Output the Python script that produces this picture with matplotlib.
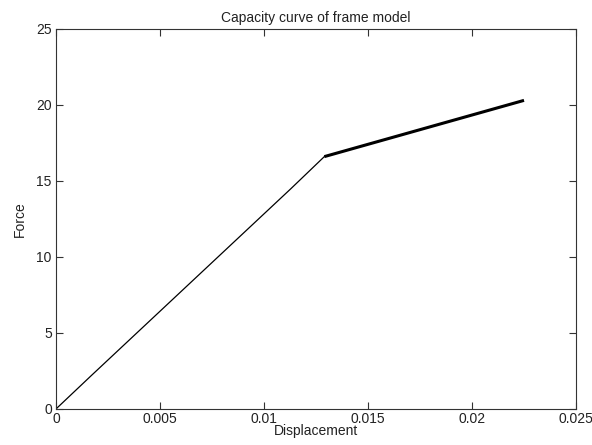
import matplotlib
matplotlib.use("Agg")
import matplotlib.pyplot as plt

# Elastic branch (thin line)
disp_elastic = [0.0, 0.0017, 0.0049, 0.0081, 0.0113, 0.0129]
force_elastic = [0.0, 2.2, 6.3, 10.4, 14.5, 16.6]
# Post-yield branch (thick line)
disp_plastic = [0.0129, 0.0225]
force_plastic = [16.6, 20.3]

xticks = [0, 0.005, 0.01, 0.015, 0.02, 0.025]
xticklabels = ["0", "0.005", "0.01", "0.015", "0.02", "0.025"]
yticks = [0, 5, 10, 15, 20, 25]

plt.rcParams['font.family'] = ['Liberation Sans', 'DejaVu Sans']

fig = plt.figure(figsize=(5.92, 4.45), dpi=100)
ax = fig.add_axes([0.0946, 0.081, 0.8784, 0.854])

ax.plot(disp_elastic, force_elastic, color='black', linewidth=0.9)
ax.plot(disp_plastic, force_plastic, color='black', linewidth=2.2, solid_capstyle='butt')

ax.set_xlim(0, 0.025)
ax.set_ylim(0, 25)
ax.set_xticks(xticks)
ax.set_xticklabels(xticklabels)
ax.set_yticks(yticks)

ax.tick_params(direction='in', length=5, width=0.8, top=True, right=True,
               labelsize=10, colors='#333333', labelcolor='#222222')
ax.tick_params(axis='x', pad=2)
ax.tick_params(axis='y', pad=3)
for s in ax.spines.values():
    s.set_linewidth(0.8)
    s.set_color('#333333')

ax.set_title("Capacity curve of frame model", fontsize=10, pad=5, color='#222222')
ax.set_xlabel("Displacement", fontsize=10, labelpad=-1, color='#222222')
ax.set_ylabel("Force", fontsize=10, labelpad=7, color='#222222')

fig.savefig("out.png", dpi=100)
